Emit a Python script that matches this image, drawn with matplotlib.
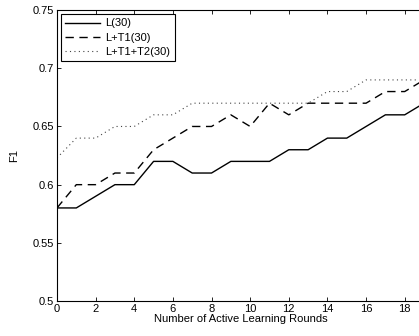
import matplotlib
matplotlib.use("Agg")
import matplotlib.pyplot as plt
import numpy as np

plt.rcParams['font.family'] = ['Liberation Sans', 'DejaVu Sans']

rounds = np.arange(20)
f1_l = [0.58, 0.58, 0.59, 0.60, 0.60, 0.62, 0.62, 0.61, 0.61, 0.62,
        0.62, 0.62, 0.63, 0.63, 0.64, 0.64, 0.65, 0.66, 0.66, 0.67]
f1_lt1 = [0.58, 0.60, 0.60, 0.61, 0.61, 0.63, 0.64, 0.65, 0.65, 0.66,
          0.65, 0.67, 0.66, 0.67, 0.67, 0.67, 0.67, 0.68, 0.68, 0.69]
f1_lt1t2 = [0.623, 0.64, 0.64, 0.65, 0.65, 0.66, 0.66, 0.67, 0.67, 0.67,
            0.67, 0.67, 0.67, 0.67, 0.68, 0.68, 0.69, 0.69, 0.69, 0.69]
labels = ["L(30)", "L+T1(30)", "L+T1+T2(30)"]

fig = plt.figure(figsize=(4.19, 3.36), dpi=100)
# axes runs a bit past the right edge, like the cropped original
ax = fig.add_axes([0.136, 0.104, 0.876, 0.866])

ax.plot(rounds, f1_l, color="black", lw=1.0, ls="-", label=labels[0])
ax.plot(rounds, f1_lt1, color="black", lw=1.0, ls=(0, (6, 4)), label=labels[1])
ax.plot(rounds, f1_lt1t2, color="#444444", lw=0.8, ls=(0, (1, 3)), label=labels[2])

ax.set_xlim(0, 19)
ax.set_ylim(0.5, 0.75)
ax.set_xticks(np.arange(0, 20, 2))
ax.set_yticks([0.5, 0.55, 0.6, 0.65, 0.7, 0.75])
ax.set_yticklabels(["0.5", "0.55", "0.6", "0.65", "0.7", "0.75"])
ax.tick_params(direction="in", top=True, right=True, labelsize=8, length=3, width=0.6, pad=2)
for s in ax.spines.values():
    s.set_linewidth(0.8)

ax.set_xlabel("Number of Active Learning Rounds", fontsize=8, labelpad=0)
ax.set_ylabel("F1", fontsize=8, labelpad=10)

leg = ax.legend(loc="upper left", fontsize=8, handlelength=3.1, fancybox=False,
                framealpha=1, edgecolor="black", borderaxespad=0.35,
                borderpad=0.4, labelspacing=0.38, handletextpad=0.5)
leg.get_frame().set_linewidth(0.8)

fig.savefig("out.png", dpi=100)
